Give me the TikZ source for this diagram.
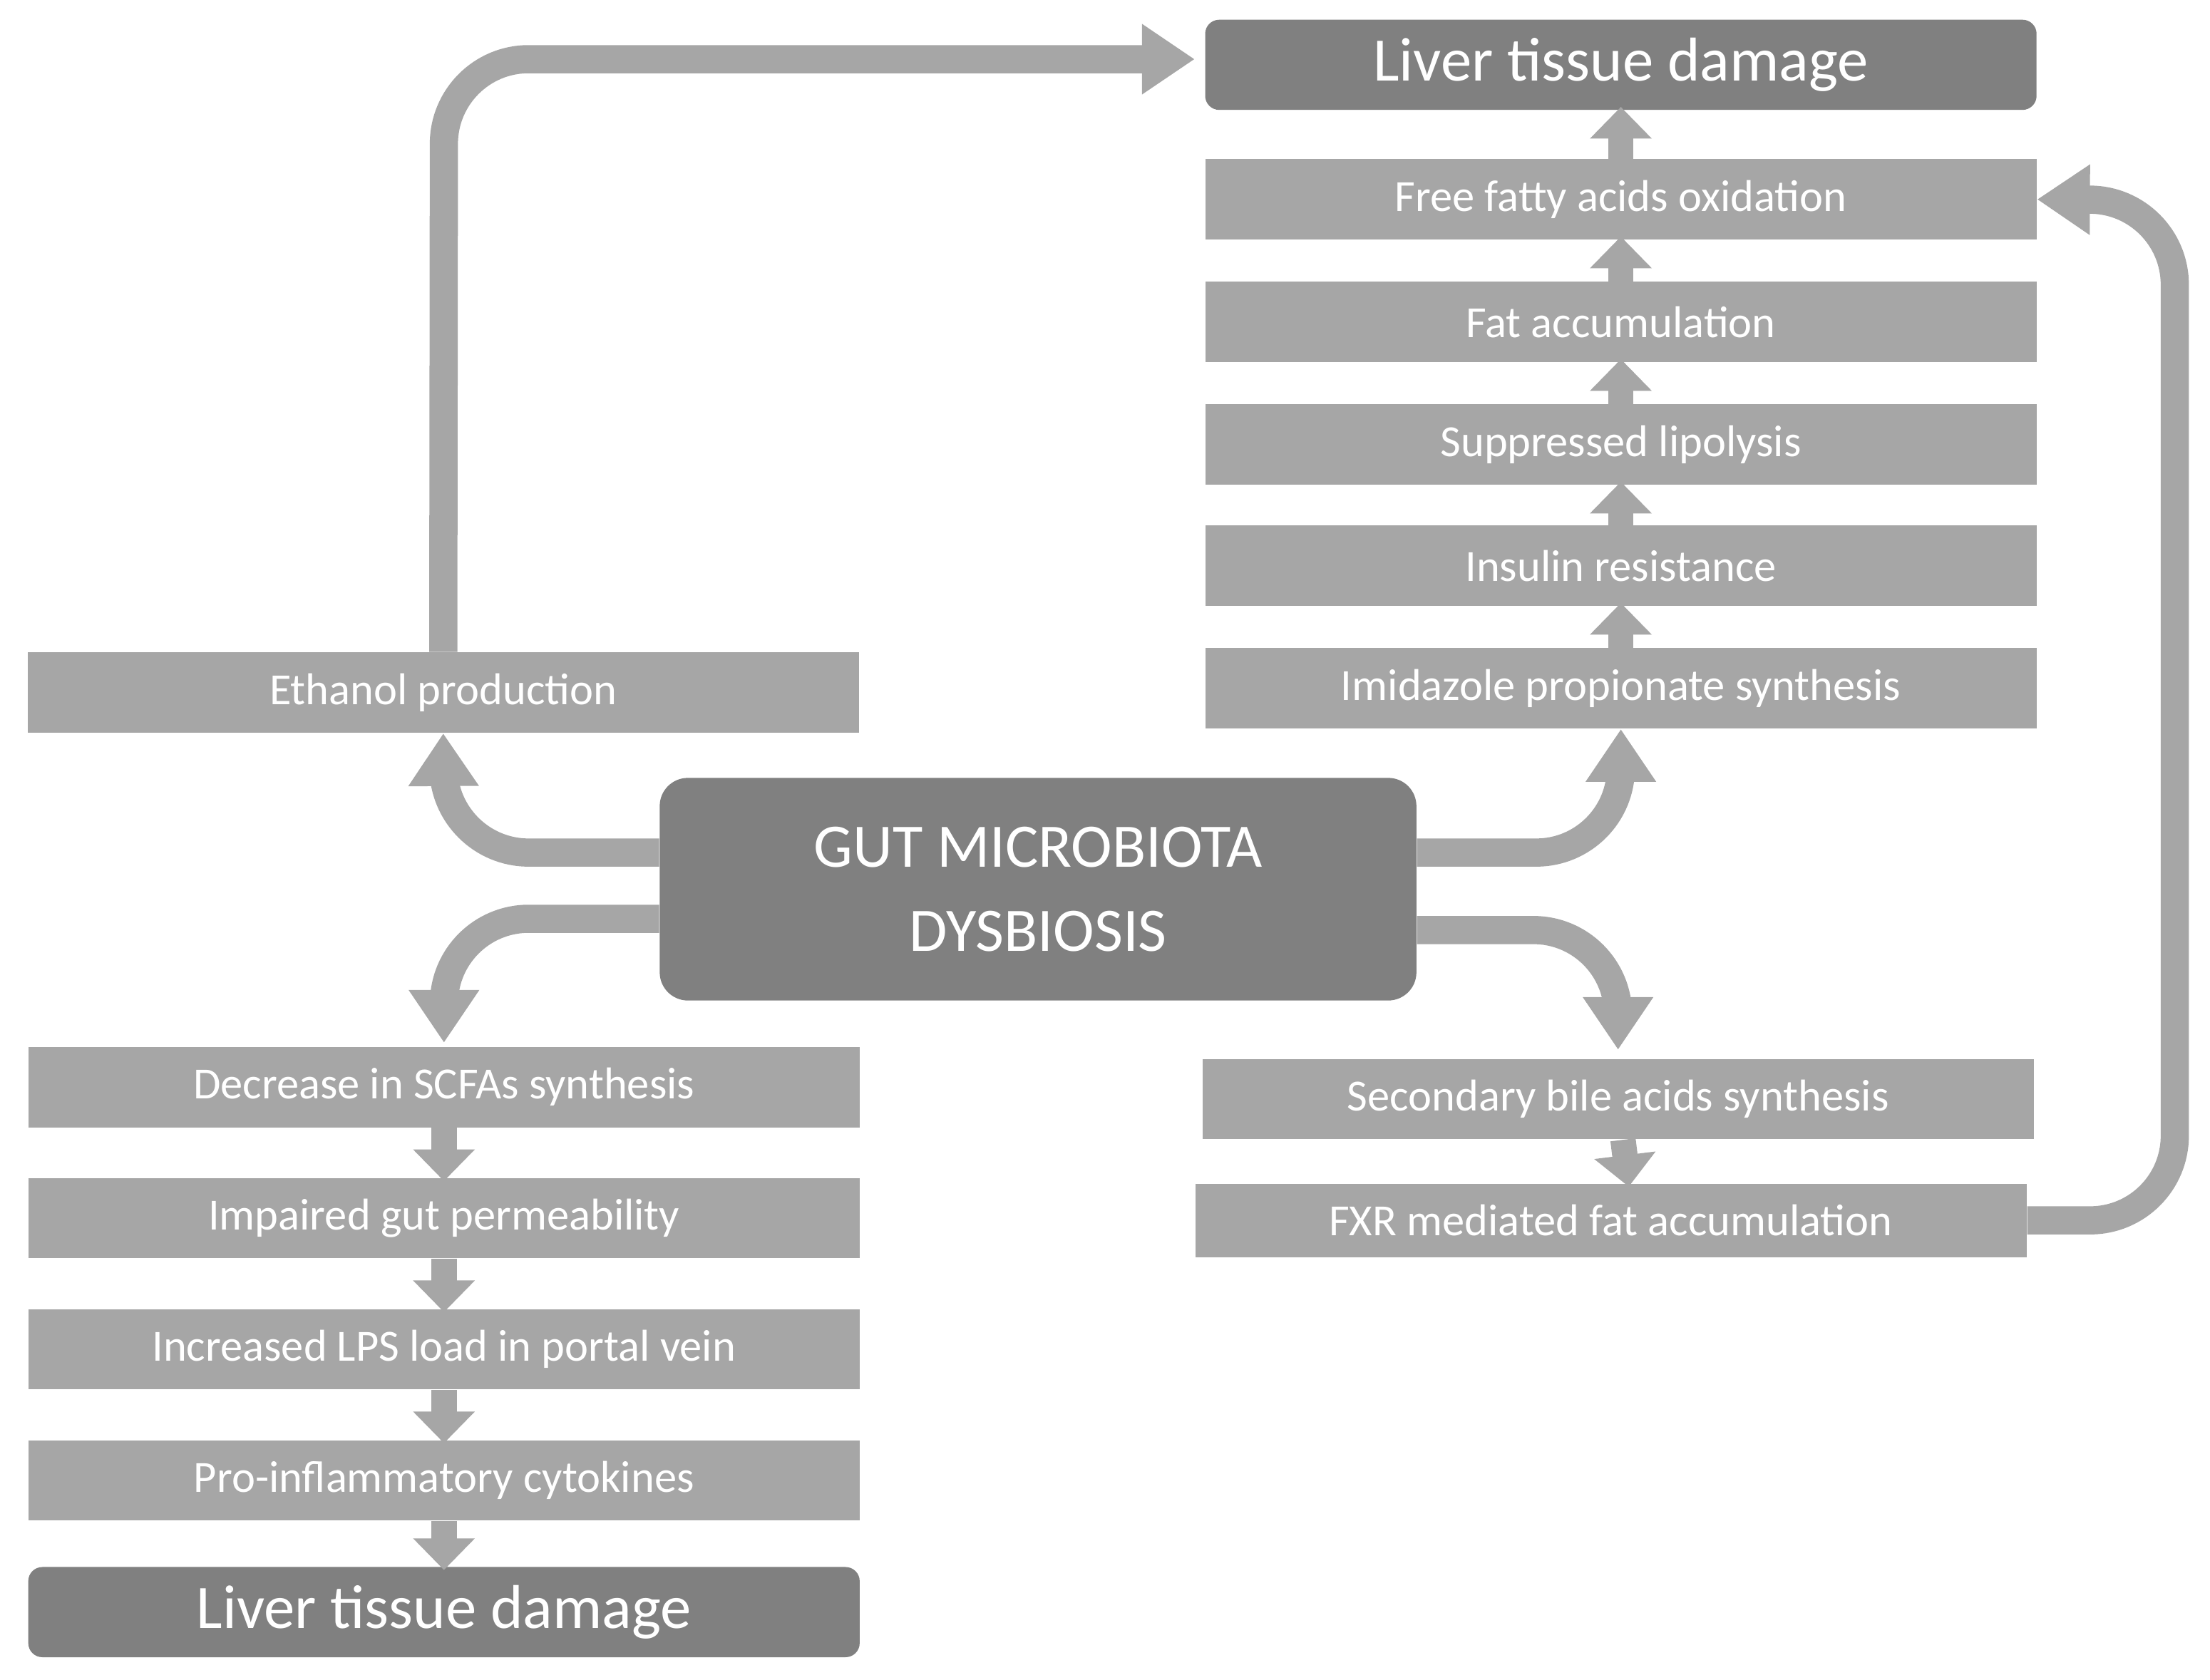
\documentclass[tikz,border=0pt]{standalone}
\usepackage{fontspec}
\setmainfont{Carlito}
\usetikzlibrary{arrows.meta}
\definecolor{lb}{HTML}{A6A6A6}
\definecolor{db}{HTML}{808080}
\definecolor{ar}{HTML}{A6A6A6}
\begin{document}
\begin{tikzpicture}[x=0.02cm,y=-0.02cm,
  box/.style={fill=lb,text=white,minimum width=11.8cm,minimum height=1.14cm,inner sep=0pt,font=\fontsize{18}{20}\selectfont},
  dbox/.style={fill=db,text=white,rounded corners=0.2cm,minimum width=11.8cm,minimum height=1.28cm,inner sep=0pt,font=\fontsize{25}{28}\selectfont},
  con/.style={draw=ar,line width=0.4cm,rounded corners=1.2cm,-{Triangle[width=0.95cm,length=0.75cm]}},
  sh/.style={draw=ar,line width=0.36cm,-{Triangle[width=0.85cm,length=0.45cm]},shorten >=-0.05cm}]
\useasboundingbox (0,0) rectangle (1568,1192);
\node[dbox] (lt) at (1150,46) {Liver tissue damage};
\node[box] (ffa) at (1150,141.5) {Free fatty acids oxidation};
\node[box] (fat) at (1150,228.5) {Fat accumulation};
\node[box] (sup) at (1150,315.5) {Suppressed lipolysis};
\node[box] (ins) at (1150,401.5) {Insulin resistance};
\node[box] (imi) at (1150,488.5) {Imidazole propionate synthesis};
\node[box] (eth) at (314.5,491.5) {Ethanol production};
\node[dbox,minimum width=10.74cm,minimum height=3.16cm,rounded corners=0.4cm,align=center,font=\fontsize{25}{34}\selectfont] (gut) at (736.5,631) {GUT MICROBIOTA\\DYSBIOSIS};
\node[box] (scf) at (315,771.5) {Decrease in SCFAs synthesis};
\node[box] (imp) at (315,864.5) {Impaired gut permeability};
\node[box] (lps) at (315,957.5) {Increased LPS load in portal vein};
\node[box] (pro) at (315,1050.5) {Pro-inflammatory cytokines};
\node[dbox] (lb2) at (315,1144) {Liver tissue damage};
\node[box] (sba) at (1148,780) {Secondary bile acids synthesis};
\node[box,minimum height=1.04cm] (fxr) at (1143,866) {FXR mediated fat accumulation};
% short arrows
\draw[sh] (imi.north) -- (ins.south);
\draw[sh] (ins.north) -- (sup.south);
\draw[sh] (sup.north) -- (fat.south);
\draw[sh] (fat.north) -- (ffa.south);
\draw[sh] (ffa.north) -- (lt.south);
\draw[sh] (scf.south) -- (imp.north);
\draw[sh] (imp.south) -- (lps.north);
\draw[sh] (lps.south) -- (pro.north);
\draw[sh] (pro.south) -- (lb2.north);
\draw[sh] ([xshift=2]sba.south) -- ([xshift=7]fxr.north);
% long connectors
\draw[con] (eth.north) -- (315,42) -- ([xshift=-4]lt.west |- 0,42);
\draw[con] (gut.west |- 0,605) -- (315,605) -- (eth.south);
\draw[con] (gut.west |- 0,652) -- (315,652) -- (315,740);
\draw[con] (gut.east |- 0,605) -- (1150,605) -- (imi.south);
\draw[con] (gut.east |- 0,660) -- (1148,660) -- (1148,745);
\draw[con] (fxr.east) -- (1543,866) -- (1543,142) -- (ffa.east);
\end{tikzpicture}
\end{document}
